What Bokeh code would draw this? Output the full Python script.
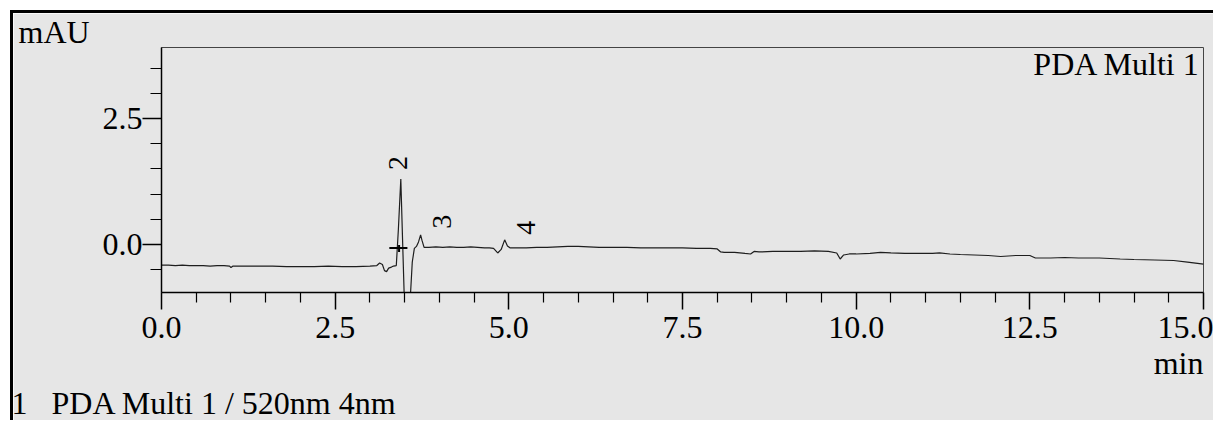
from bokeh.plotting import figure
from bokeh.models import Range1d, FixedTicker, PrintfTickFormatter, Title, ColumnDataSource
from bokeh.core.properties import value
from bokeh.embed import file_html
from bokeh.resources import INLINE
import math

# ---- data ----
time_min = [0.00, 0.10, 0.20, 0.30, 0.40, 0.50, 0.60, 0.70, 0.80, 0.90, 0.98, 1.00, 1.03,
            1.20, 1.40, 1.60, 1.80, 2.00, 2.20, 2.40, 2.60, 2.80, 3.00, 3.10, 3.14, 3.18,
            3.21, 3.24, 3.27, 3.31, 3.34, 3.38, 3.41, 3.445, 3.47, 3.50, 3.54, 3.58, 3.61,
            3.64, 3.67, 3.70, 3.73, 3.75, 3.78, 3.85, 3.95, 4.05, 4.15, 4.25, 4.35, 4.45,
            4.55, 4.65, 4.72, 4.78, 4.84, 4.89, 4.94, 4.98, 5.02, 5.10, 5.25, 5.40, 5.55,
            5.70, 5.85, 6.00, 6.15, 6.30, 6.50, 6.70, 6.90, 7.10, 7.30, 7.50, 7.70, 7.90,
            8.00, 8.05, 8.10, 8.25, 8.40, 8.48, 8.53, 8.60, 8.80, 9.00, 9.20, 9.40, 9.60,
            9.72, 9.77, 9.82, 9.90, 10.00, 10.20, 10.35, 10.50, 10.70, 10.90, 11.10, 11.20,
            11.35, 11.50, 11.70, 11.90, 12.08, 12.30, 12.50, 12.58, 12.80, 13.00, 13.20,
            13.50, 13.80, 14.00, 14.30, 14.57, 14.77, 15.00]
signal_mau = [-0.41, -0.41, -0.42, -0.41, -0.42, -0.42, -0.42, -0.43, -0.42, -0.42, -0.43, -0.46, -0.43,
              -0.43, -0.43, -0.43, -0.44, -0.44, -0.44, -0.43, -0.44, -0.44, -0.43, -0.42, -0.37, -0.40,
              -0.52, -0.54, -0.47, -0.45, -0.43, -0.42, 0.30, 1.30, 0.10, -1.30, -1.90, -1.10, -0.35,
              -0.08, -0.04, 0.05, 0.19, 0.08, -0.06, -0.06, -0.05, -0.06, -0.05, -0.06, -0.06, -0.05,
              -0.06, -0.07, -0.07, -0.08, -0.17, -0.10, 0.09, -0.03, -0.07, -0.07, -0.07, -0.06, -0.06,
              -0.05, -0.04, -0.04, -0.05, -0.06, -0.06, -0.06, -0.07, -0.07, -0.07, -0.07, -0.08, -0.08,
              -0.09, -0.15, -0.16, -0.16, -0.18, -0.19, -0.14, -0.15, -0.14, -0.14, -0.14, -0.13, -0.14,
              -0.17, -0.29, -0.21, -0.19, -0.19, -0.18, -0.16, -0.17, -0.18, -0.18, -0.18, -0.17,
              -0.19, -0.20, -0.21, -0.22, -0.24, -0.22, -0.22, -0.27, -0.27, -0.26, -0.27,
              -0.27, -0.29, -0.30, -0.31, -0.32, -0.35, -0.39]

peak_names = ["2", "3", "4"]
peak_rt = [3.445, 3.73, 4.94]
peak_height = [1.30, 0.19, 0.09]

baseline_mark_x = [3.28, 3.54]
baseline_mark_y = [-0.07, -0.07]
tick_mark_x = [3.42, 3.42]
tick_mark_y = [-0.01, -0.15]

x_ticks = [0.0, 2.5, 5.0, 7.5, 10.0, 12.5, 15.0]
x_minor = [0.5, 1.0, 1.5, 2.0, 3.0, 3.5, 4.0, 4.5, 5.5, 6.0, 6.5, 7.0, 8.0, 8.5, 9.0, 9.5,
           10.5, 11.0, 11.5, 12.0, 13.0, 13.5, 14.0, 14.5]
y_ticks = [0.0, 2.5]
y_minor = [-0.5, 0.5, 1.0, 1.5, 2.0, 3.0, 3.5]

channel_label = "PDA Multi 1"
y_unit = "mAU"
x_unit = "min"
legend_text = "1\u00a0\u00a0\u00a0PDA Multi 1 / 520nm 4nm"

# ---- styling ----
BG = "#e6e6e6"
FONT = "Liberation Serif"
FS = "32px"

p = figure(width=1203, height=410, output_backend="svg", toolbar_location=None,
           x_range=Range1d(0, 15), y_range=Range1d(-0.955, 3.91),
           min_border_left=148, min_border_right=13, min_border_top=33, min_border_bottom=131)
p.styles = {"margin-left": "10px", "margin-top": "10px",
            "border-left": "3px solid black", "border-top": "3px solid black"}
p.background_fill_color = BG
p.border_fill_color = BG
p.outline_line_color = "#444444"
p.outline_line_width = 1
p.xgrid.visible = False
p.ygrid.visible = False

xa = p.xaxis[0]
xa.ticker = FixedTicker(ticks=x_ticks, minor_ticks=x_minor)
xa.formatter = PrintfTickFormatter(format="%.1f")
ya = p.yaxis[0]
ya.ticker = FixedTicker(ticks=y_ticks, minor_ticks=y_minor)
ya.formatter = PrintfTickFormatter(format="%.1f")
for ax, mj, mn, so in ((xa, 17, 10, 7), (ya, 19, 11, 0)):
    ax.axis_line_color = "black"
    ax.axis_line_width = 1.5
    ax.major_tick_line_color = "black"
    ax.major_tick_line_width = 1.5
    ax.minor_tick_line_color = "black"
    ax.minor_tick_line_width = 1.2
    ax.major_tick_in = 0
    ax.major_tick_out = mj
    ax.minor_tick_in = 0
    ax.minor_tick_out = mn
    ax.major_label_text_font = FONT
    ax.major_label_text_font_size = FS
    ax.major_label_text_color = "black"
    ax.major_label_standoff = so

p.line(time_min, signal_mau, line_color="#1e1e1e", line_width=1.2)
p.line(baseline_mark_x, baseline_mark_y, line_color="black", line_width=2)
p.line(tick_mark_x, tick_mark_y, line_color="black", line_width=2)

src = ColumnDataSource(dict(x=peak_rt, y=peak_height, t=peak_names,
                            dx=[-3, 21, 21], dy=[-16, -13, -12]))
p.text(x="x", y="y", text="t", source=src, x_offset="dx", y_offset="dy",
       angle=math.pi / 2, text_align="center", text_baseline="middle",
       text_font=value(FONT), text_font_size="28px", text_color="black")

# channel name in the top-right corner of the plot area
p.text(x=[15.0], y=[3.31], text=[channel_label], x_offset=-3, y_offset=-14,
       text_align="right", text_baseline="alphabetic",
       text_font=value(FONT), text_font_size=FS, text_color="black")

def title(txt, place, align, offset, standoff):
    p.add_layout(Title(text=txt, align=align, offset=offset, standoff=standoff,
                       text_font=FONT, text_font_size=FS, text_font_style="normal",
                       text_color="black"), place)

title(y_unit, "above", "left", -143, -4)
title(x_unit, "below", "right", 0, 4)
title(legend_text, "below", "left", -150, 0)

open("out.html", "w").write(file_html(p, INLINE))
